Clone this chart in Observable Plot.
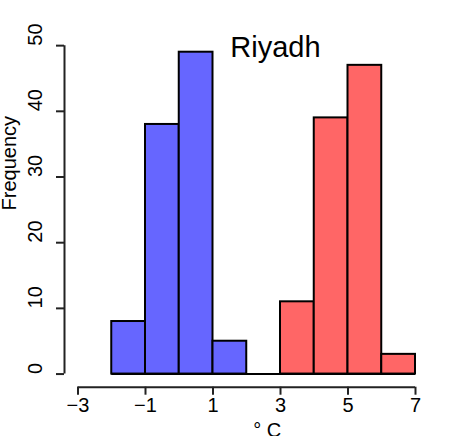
<!DOCTYPE html>
<html>
<head>
<meta charset="utf-8">
<script src="https://cdn.jsdelivr.net/npm/d3@7"></script>
<script src="https://cdn.jsdelivr.net/npm/@observablehq/plot@0.6"></script>
<style>
  html, body { margin: 0; padding: 0; background: #fff; overflow: hidden; }
  svg { font-family: "Liberation Sans", Arial, sans-serif; }
</style>
</head>
<body>
<div id="chart"></div>
<script>
// Histogram data (bin edges and counts)
const coldBreaks = [-2, -1, 0, 1, 2, 3];
const coldCounts = [8, 38, 49, 5, 0];
const warmBreaks = [3, 4, 5, 6, 7];
const warmCounts = [11, 39, 47, 3];
const xTicks = [-3, -1, 1, 3, 5, 7];
const yTicks = [0, 10, 20, 30, 40, 50];
const title = "Riyadh";
const xLabel = "° C";
const yLabel = "Frequency";

const toBins = (breaks, counts, group) =>
  counts.map((c, i) => ({x1: breaks[i], x2: breaks[i + 1], count: c, group}));
const bins = [...toBins(coldBreaks, coldCounts, "cold"), ...toBins(warmBreaks, warmCounts, "warm")];

// R-style plot region: data range extended by 4%
const xr = [d3.min(xTicks), d3.max(xTicks)];
const yr = [d3.min(yTicks), d3.max(yTicks)];
const xDomain = [xr[0] - 0.04 * (xr[1] - xr[0]), xr[1] + 0.04 * (xr[1] - xr[0])];
const yDomain = [yr[0] - 0.04 * (yr[1] - yr[0]), yr[1] + 0.04 * (yr[1] - yr[0])];
const allBreaks = [...coldBreaks, ...warmBreaks];

const axisColor = "#222";
const fs = 20;

const chart = Plot.plot({
  width: 473,
  height: 436,
  marginLeft: 64,
  marginRight: 44.5,
  marginTop: 32,
  marginBottom: 49.3,
  style: {fontFamily: '"Liberation Sans", Arial, sans-serif', background: "#fff", color: "#000"},
  x: {domain: xDomain, axis: null},
  y: {domain: yDomain, axis: null},
  color: {domain: ["cold", "warm"], range: ["#6666FF", "#FF6666"]},
  marks: [
    // baseline under bars (zero-count bins show as a line)
    Plot.ruleY([0], {x1: d3.min(allBreaks), x2: d3.max(allBreaks), stroke: "#000", strokeWidth: 2}),
    Plot.rectY(bins, {x1: "x1", x2: "x2", y1: 0, y2: "count", fill: "group", stroke: "#000", strokeWidth: 2, inset: 0}),
    // y axis
    Plot.ruleX([xDomain[0]], {y1: yr[0], y2: yr[1], stroke: axisColor, strokeWidth: 2}),
    Plot.axisY({ticks: yTicks, tickSize: 8, tickFormat: () => "", label: null, stroke: axisColor, strokeWidth: 2}),
    Plot.text(yTicks, {y: d => d, frameAnchor: "left", dx: -28.5, text: d => String(d), rotate: -90, fontSize: fs, fill: "#000"}),
    // x axis
    Plot.ruleY([yDomain[0]], {x1: xr[0], x2: xr[1], stroke: axisColor, strokeWidth: 2}),
    Plot.axisX({ticks: xTicks, tickSize: 8, tickFormat: () => "", label: null, stroke: axisColor, strokeWidth: 2}),
    Plot.text(xTicks, {x: d => d, frameAnchor: "bottom", dy: 24.6, text: d => (d < 0 ? "\u2212" + Math.abs(d) : String(d)), fontSize: fs, fill: "#000"}),
    // labels
    Plot.text([yLabel], {frameAnchor: "left", dx: -55, dy: 0.6, rotate: -90, text: d => d, fontSize: fs, fill: "#000"}),
    Plot.text([xLabel], {frameAnchor: "bottom", dx: 20.5, dy: 50, text: d => d, fontSize: fs, fill: "#000"}),
    Plot.text([title], {frameAnchor: "top", dx: 28.75, dy: 4, text: d => d, fontSize: 29, fill: "#000"})
  ]
});
document.getElementById("chart").appendChild(chart);
</script>
</body>
</html>
